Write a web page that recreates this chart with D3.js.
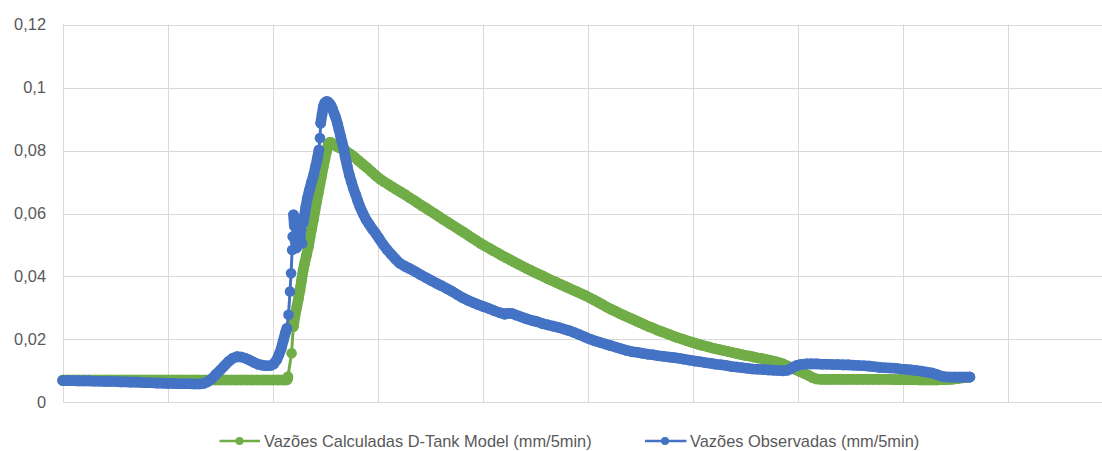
<!DOCTYPE html>
<html>
<head>
<meta charset="utf-8">
<script src="https://cdn.jsdelivr.net/npm/d3@7"></script>
<style>
  html, body { margin: 0; padding: 0; background: #ffffff; }
  svg { display: block; }
  text { font-family: "Liberation Sans", Arial, sans-serif; fill: #595959; }
</style>
</head>
<body>
<svg id="chart" width="1102" height="451"></svg>
<script>
// Time step (5-min intervals) and flow in mm/5min
const calculated = [
  [0,.0071],[5,.0071],[10,.0071],[15,.0071],[20,.0071],[25,.0071],[30,.0071],[35,.0071],[40,.0071],[45,.0071],
  [50,.0071],[55,.0071],[60,.0071],[65,.0071],[70,.0071],[75,.0071],[80,.0071],[85,.0071],[90,.0071],[95,.0071],
  [100,.0071],[105,.0071],[110,.0071],[115,.0071],[120,.0071],[125,.0071],[130,.0071],[135,.0071],[140,.0071],[145,.0071],
  [150,.0071],[155,.0071],[160,.0071],[165,.0071],[170,.0071],[175,.0071],[180,.0071],[185,.0071],[190,.0071],[195,.0071],
  [200,.0071],[205,.0071],[210,.0071],[213,.0071],[214,.0073],[214.5,.0081],[218,.0156],[219.6,.0240],[221,.0270],
  [223,.0304],[224.5,.0330],[226,.0357],[227.5,.0388],[229,.0420],[230.5,.0443],[232,.0465],[234,.0495],[235.5,.0523],[237,.0550],
  [238.7,.0580],[240.2,.0608],[241.8,.0637],[243.4,.0665],[245,.0693],[246.6,.0721],[248.2,.0749],[249.8,.0774],[251.4,.0799],[253,.0823],
  [254.5,.0826],[256,.0825],[258,.0820],[260,.0815],[263,.0810],[266,.0805],[270,.0798],[274,.0789],[278,.0779],[282,.0767],
  [286,.0756],[290,.0745],[294,.0733],[298,.0721],[302,.0710],[306,.0701],[310,.0693],[314,.0684],[318,.0676],[322,.0668],
  [326,.0660],[330,.0651],[334,.0643],[338,.0634],[342,.0625],[346,.0617],[350,.0608],[354,.0600],[358,.0591],[362,.0582],
  [366,.0574],[370,.0565],[374,.0557],[378,.0548],[382,.0540],[386,.0531],[390,.0522],[394,.0514],[398,.0505],[402,.0497],
  [406,.0490],[410,.0482],[414,.0475],[418,.0467],[422,.0460],[426,.0453],[430,.0446],[434,.0439],[438,.0432],[442,.0425],
  [446,.0419],[450,.0412],[454,.0406],[458,.0400],[462,.0393],[466,.0387],[470,.0381],[474,.0375],[478,.0369],[482,.0363],
  [486,.0357],[490,.0351],[494,.0345],[498,.0339],[502,.0332],[506,.0325],[510,.0318],[514,.0311],[518,.0303],[522,.0296],
  [526,.0290],[530,.0283],[534,.0277],[538,.0271],[542,.0265],[546,.0259],[550,.0253],[554,.0247],[558,.0241],[562,.0236],
  [566,.0230],[570,.0225],[574,.0220],[578,.0215],[582,.0210],[586,.0205],[590,.0201],[594,.0196],[598,.0192],[602,.0188],
  [606,.0184],[610,.0180],[614,.0177],[618,.0173],[622,.0170],[626,.0167],[630,.0164],[634,.0161],[638,.0158],[642,.0155],
  [646,.0152],[650,.0149],[654,.0147],[658,.0144],[662,.0141],[666,.0139],[670,.0136],[674,.0133],[678,.0130],[682,.0126],
  [686,.0122],[690,.0116],[694,.0110],[698,.0104],[702,.0098],[706,.0092],[710,.0086],[714,.0079],[718,.0074],[722,.0073],
  [727,.0073],[732,.0073],[737,.0073],[742,.0073],[747,.0073],[752,.0073],[757,.0073],[762,.0073],[767,.0073],[772,.0073],
  [777,.0073],[782,.0073],[787,.0073],[792,.0072],[797,.0072],[802,.0072],[807,.0072],[812,.0072],[817,.0071],[822,.0071],
  [827,.0071],[832,.0071],[837,.0072],[842,.0072],[847,.0073],[852,.0075],[856,.0077],[860,.0079],[864,.0080]
];

const observed = [
  [0,.0069],[5,.0069],[10,.0069],[15,.0068],[20,.0068],[25,.0068],[30,.0067],[35,.0067],[40,.0066],[45,.0066],
  [50,.0066],[55,.0065],[60,.0065],[65,.0064],[70,.0064],[75,.0063],[80,.0062],[85,.0062],[90,.0061],[95,.0061],
  [100,.0060],[105,.0060],[110,.0059],[115,.0059],[120,.0059],[125,.0058],[130,.0058],[134,.0060],[138,.0065],[142,.0075],
  [146,.0089],[150,.0102],[154,.0116],[158,.0130],[162,.0140],[166,.0145],[170,.0144],[174,.0140],[178,.0134],[182,.0127],
  [186,.0121],[190,.0118],[194,.0116],[198,.0117],[201,.0122],[204,.0136],[206,.0152],[208,.0170],[210,.0195],[212,.0220],
  [213.5,.0235],[215,.0278],[216.5,.0352],[217.5,.0410],[218.5,.0484],[219,.0527],[219.8,.0596],[220.6,.0560],[221.3,.0510],[222,.0575],
  [222.8,.0490],[223.6,.0545],[224.4,.0505],[225.2,.0560],[226,.0520],[227,.0550],[228,.0505],[229,.0570],[230,.0590],[231.5,.0620],
  [233,.0648],[235,.0675],[237,.0700],[239,.0722],[241,.0752],[242.5,.0775],[244,.0802],[245,.0840],[245.7,.0887],[247,.0915],
  [248.2,.0940],[249.5,.0951],[251,.0956],[252.5,.0955],[254,.0950],[255.5,.0943],[257,.0932],[258.5,.0918],[260,.0905],[261.5,.0888],
  [263,.0868],[264.5,.0848],[266,.0828],[267.5,.0808],[269,.0780],[271,.0750],[273,.0722],[275,.0700],[277,.0678],[279,.0660],
  [281,.0640],[283,.0622],[286,.0600],[289,.0580],[292,.0565],[295,.0550],[298,.0537],[301,.0522],[305,.0502],[309,.0485],
  [313,.0470],[317,.0455],[321,.0442],[326,.0432],[331,.0424],[336,.0415],[341,.0405],[346,.0396],[351,.0387],[356,.0378],
  [361,.0370],[366,.0361],[371,.0352],[376,.0342],[381,.0332],[386,.0324],[391,.0317],[396,.0310],[401,.0304],[406,.0298],
  [411,.0291],[416,.0285],[421,.0280],[424,.0283],[428,.0282],[432,.0277],[437,.0271],[442,.0265],[447,.0260],[452,.0256],
  [457,.0250],[462,.0246],[467,.0242],[472,.0238],[477,.0233],[482,.0228],[487,.0222],[492,.0215],[497,.0208],[502,.0201],
  [507,.0195],[512,.0190],[517,.0185],[522,.0180],[527,.0175],[532,.0170],[537,.0165],[542,.0161],[547,.0159],[552,.0156],
  [557,.0153],[562,.0151],[567,.0148],[572,.0146],[577,.0144],[582,.0142],[587,.0140],[592,.0137],[597,.0134],[602,.0131],
  [607,.0129],[612,.0126],[617,.0124],[622,.0121],[627,.0119],[632,.0117],[637,.0114],[642,.0112],[647,.0110],[652,.0108],
  [657,.0106],[662,.0105],[667,.0104],[672,.0103],[677,.0102],[682,.0101],[686,.0100],[690,.0102],[693,.0106],[696,.0112],
  [699,.0117],[703,.0120],[708,.0122],[713,.0122],[718,.0122],[723,.0121],[728,.0121],[733,.0120],[738,.0120],[743,.0119],
  [748,.0119],[753,.0118],[758,.0117],[763,.0116],[768,.0115],[773,.0113],[778,.0111],[783,.0110],[788,.0109],[793,.0108],
  [798,.0106],[803,.0105],[808,.0103],[813,.0101],[818,.0099],[823,.0096],[828,.0093],[832,.0089],[836,.0084],[840,.0081],
  [844,.0080],[849,.0080],[854,.0080],[859,.0080],[864,.0080]
];

const yTicks = [0, 0.02, 0.04, 0.06, 0.08, 0.1, 0.12];
const xGridSteps = [0, 100, 200, 300, 400, 500, 600, 700, 800, 900, 1000];
const seriesNames = ["Vazões Calculadas D-Tank Model (mm/5min)", "Vazões Observadas (mm/5min)"];
const seriesColors = ["#70AD47", "#4472C4"];

const svg = d3.select("#chart");
const W = 1102;
const x = d3.scaleLinear().domain([0, 1000]).range([62.7, 1112.7]);
const y = d3.scaleLinear().domain([0, 0.12]).range([402.3, 24.7]);
const fmt = v => String(+v.toFixed(2)).replace(".", ",");

// gridlines
const grid = svg.append("g");
grid.selectAll("line.h").data(yTicks).join("line")
  .attr("x1", x(0)).attr("x2", W)
  .attr("y1", d => Math.round(y(d)) + 0.5).attr("y2", d => Math.round(y(d)) + 0.5)
  .attr("stroke", "#d9d9d9").attr("stroke-width", 1);
grid.selectAll("line.v").data(xGridSteps).join("line")
  .attr("x1", d => Math.round(x(d)) + 0.5).attr("x2", d => Math.round(x(d)) + 0.5)
  .attr("y1", y(0.12)).attr("y2", y(0))
  .attr("stroke", "#d9d9d9").attr("stroke-width", 1);

// y axis labels
const yAxis = d3.axisLeft(y).tickValues(yTicks).tickFormat(fmt).tickSize(0).tickPadding(0);
const ya = svg.append("g").attr("transform", "translate(46,0)").call(yAxis);
ya.select(".domain").remove();
ya.selectAll("text").attr("font-size", "16.4px").attr("fill", "#595959")
  .attr("font-family", "'Liberation Sans', Arial, sans-serif");

// series: markers are packed closely, so consecutive readings that sit near each
// other merge into a solid band; widely spaced readings stay as separate dots
const R = 5.3;
const line = d3.line().x(d => x(d[0])).y(d => y(d[1]));
function bandPath(data) {
  const p = d3.path();
  let open = false;
  for (let i = 1; i < data.length; i++) {
    const x0 = x(data[i - 1][0]), y0 = y(data[i - 1][1]);
    const x1 = x(data[i][0]), y1 = y(data[i][1]);
    if (Math.hypot(x1 - x0, y1 - y0) < 12) {
      if (!open) { p.moveTo(x0, y0); open = true; }
      p.lineTo(x1, y1);
    } else {
      open = false;
    }
  }
  return p.toString();
}
[calculated, observed].forEach((data, i) => {
  const g = svg.append("g");
  g.append("path").attr("d", bandPath(data)).attr("fill", "none")
    .attr("stroke", seriesColors[i]).attr("stroke-width", 2 * R)
    .attr("stroke-linejoin", "round").attr("stroke-linecap", "round");
  g.append("path").datum(data)
    .attr("d", line).attr("fill", "none")
    .attr("stroke", seriesColors[i]).attr("stroke-width", 3)
    .attr("stroke-linejoin", "round").attr("stroke-linecap", "round");
  g.selectAll("circle").data(data).join("circle")
    .attr("cx", d => x(d[0])).attr("cy", d => y(d[1]))
    .attr("r", R).attr("fill", seriesColors[i]);
});

// legend
const legendItems = [
  { x0: 219.5, x1: 260, cx: 239.5, tx: 264 },
  { x0: 645, x1: 686.5, cx: 665, tx: 690 }
];
const lg = svg.append("g");
legendItems.forEach((it, i) => {
  lg.append("line").attr("x1", it.x0).attr("x2", it.x1).attr("y1", 441).attr("y2", 441)
    .attr("stroke", seriesColors[i]).attr("stroke-width", 2.7);
  lg.append("circle").attr("cx", it.cx).attr("cy", 441).attr("r", 4).attr("fill", seriesColors[i]);
  lg.append("text").attr("x", it.tx).attr("y", 441).attr("dy", "0.35em")
    .attr("font-size", "16.4px").text(seriesNames[i]);
});
</script>
</body>
</html>
